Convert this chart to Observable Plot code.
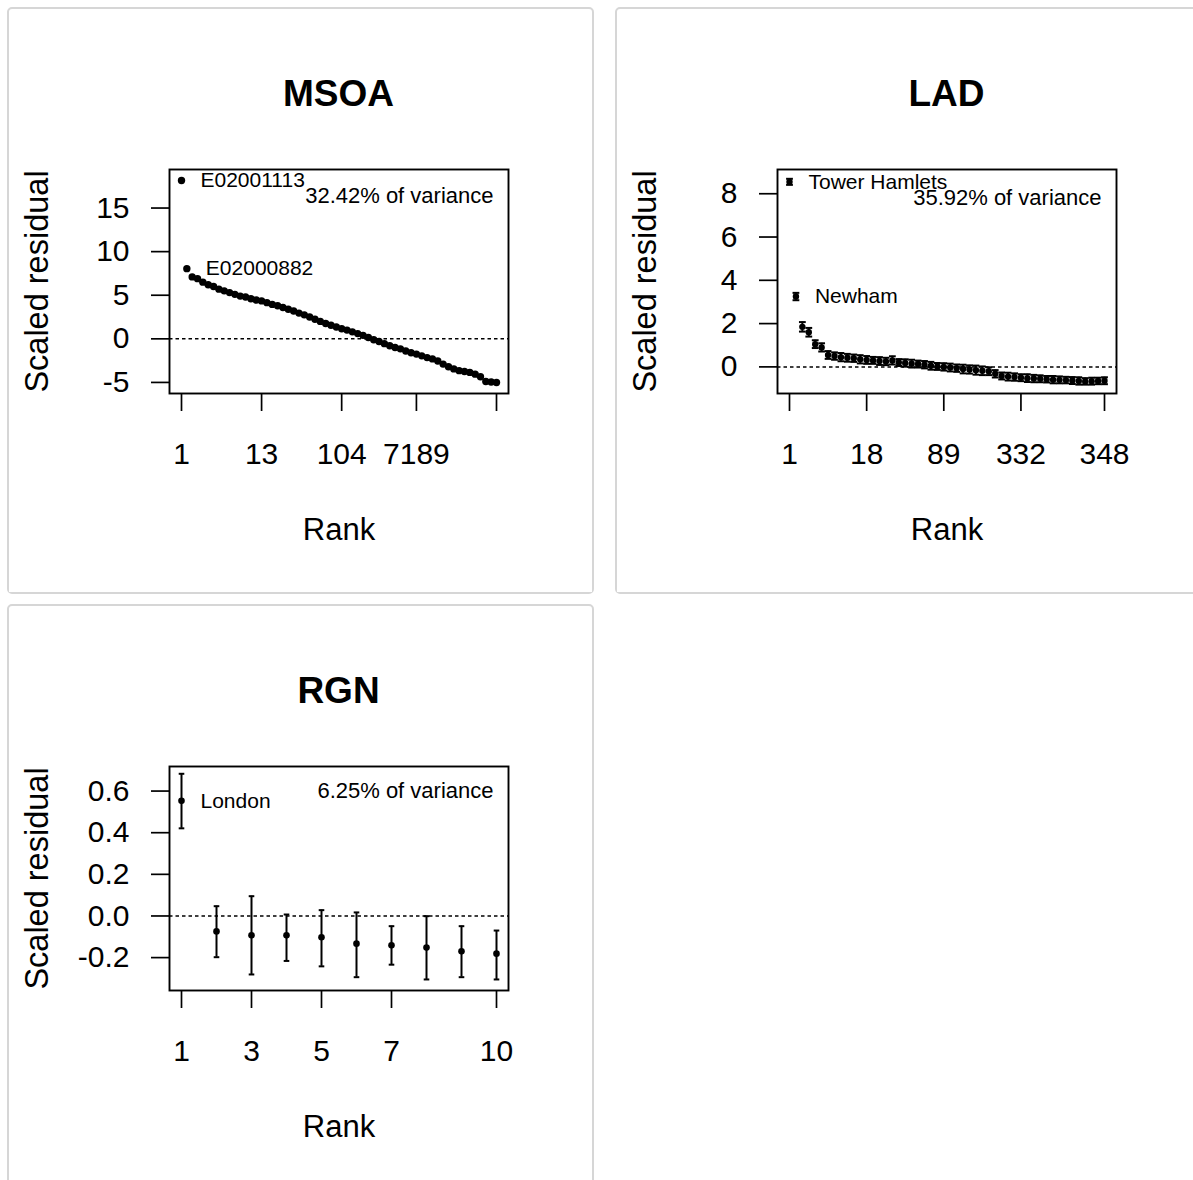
<!DOCTYPE html>
<html>
<head>
<meta charset="utf-8">
<script src="https://cdn.jsdelivr.net/npm/d3@7"></script>
<script src="https://cdn.jsdelivr.net/npm/@observablehq/plot@0.6"></script>
<style>
  html, body { margin: 0; padding: 0; background: #fff; }
  body { width: 1193px; height: 1180px; overflow: hidden; position: relative; font-family: "Liberation Sans", Arial, sans-serif; }
  .panel { position: absolute; width: 583px; height: 583px; border: 2px solid #d6d6d6; border-radius: 5px; background: #fff; }
  .title { position: absolute; left: 160px; width: 339px; top: 66px; line-height: 37px; text-align: center; font-weight: bold; font-size: 37px; color: #000; }
  .chart { position: absolute; left: 0; top: 100px; }
</style>
</head>
<body>
<div class="panel" id="p1" style="left:7px; top:7px;"><div class="title">MSOA</div><div class="chart"></div></div>
<div class="panel" id="p2" style="left:615px; top:7px;"><div class="title">LAD</div><div class="chart"></div></div>
<div class="panel" id="p3" style="left:7px; top:604px;"><div class="title">RGN</div><div class="chart"></div></div>
<script>
// ---------------- DATA ----------------
// MSOA: scaled residuals ordered by rank
const msoaResidual = [18.16, 8.05, 7.1, 6.9, 6.5, 6.2, 6.0, 5.7, 5.5, 5.3,
  5.1, 4.9, 4.8, 4.6, 4.45, 4.35, 4.15, 3.95, 3.8, 3.6,
  3.4, 3.2, 2.95, 2.75, 2.5, 2.25, 2.0, 1.75, 1.55, 1.35,
  1.15, 1.0, 0.8, 0.6, 0.4, 0.15, -0.1, -0.3, -0.55, -0.8,
  -1.0, -1.15, -1.4, -1.6, -1.75, -1.95, -2.15, -2.3, -2.55, -2.9,
  -3.2, -3.45, -3.65, -3.75, -3.85, -4.05, -4.35, -4.9, -4.95, -5.0];
const msoaNames = ["E02001113", "E02000882"];
const msoaTickRanks = [1, 16, 31, 45, 60];
const msoaTickLabels = ["1", "13", "104", "7189", ""];
const msoaYTicks = [-5, 0, 5, 10, 15];
const msoaVariance = "32.42% of variance";

// LAD: scaled residuals ordered by rank, with half-widths of intervals
const ladResidual = [8.55, 3.25, 1.85, 1.6, 1.05, 0.9, 0.55, 0.5, 0.45, 0.42,
  0.4, 0.35, 0.32, 0.3, 0.27, 0.25, 0.3, 0.2, 0.18, 0.15,
  0.13, 0.1, 0.05, 0.02, 0.0, -0.03, -0.06, -0.1, -0.12, -0.15,
  -0.18, -0.2, -0.32, -0.42, -0.45, -0.47, -0.5, -0.52, -0.54, -0.55,
  -0.57, -0.59, -0.6, -0.61, -0.63, -0.65, -0.67, -0.66, -0.65, -0.64];
const ladHalfWidth = [0.14, 0.17, 0.22, 0.2, 0.18, 0.19, 0.18, 0.17, 0.19, 0.18,
  0.17, 0.19, 0.18, 0.16, 0.18, 0.17, 0.19, 0.16, 0.17, 0.18,
  0.16, 0.17, 0.18, 0.16, 0.17, 0.18, 0.17, 0.2, 0.19, 0.21,
  0.2, 0.18, 0.17, 0.16, 0.18, 0.17, 0.16, 0.18, 0.17, 0.16,
  0.15, 0.17, 0.16, 0.15, 0.16, 0.17, 0.15, 0.16, 0.15, 0.16];
const ladNames = ["Tower Hamlets", "Newham"];
const ladTickRanks = [1, 13, 25, 37, 50];
const ladTickLabels = ["1", "18", "89", "332", "348"];
const ladYTicks = [0, 2, 4, 6, 8];
const ladVariance = "35.92% of variance";

// RGN: scaled residuals with interval bounds
const rgnResidual = [0.553, -0.074, -0.093, -0.093, -0.102, -0.133, -0.141, -0.152, -0.170, -0.181];
const rgnLower = [0.421, -0.198, -0.281, -0.216, -0.242, -0.294, -0.234, -0.305, -0.294, -0.305];
const rgnUpper = [0.683, 0.047, 0.095, 0.007, 0.028, 0.017, -0.049, -0.001, -0.049, -0.070];
const rgnNames = ["London"];
const rgnTickRanks = [1, 3, 5, 7, 10];
const rgnTickLabels = ["1", "3", "5", "7", "10"];
const rgnYTicks = [-0.2, 0.0, 0.2, 0.4, 0.6];
const rgnVariance = "6.25% of variance";

// ---------------- DRAWING ----------------
const FONT = "'Liberation Sans', Arial, sans-serif";

function capSymbol() {
  return {
    draw(ctx, size) {
      const w = Math.sqrt(size / Math.PI);
      ctx.moveTo(-w, 0);
      ctx.lineTo(w, 0);
    }
  };
}

function drawPanel(el, cfg) {
  const {values, lo, hi, names, tickRanks, tickLabels, yTicks, yFormat, yDomain,
         variance, varDy, dotR, capR, barWidth} = cfg;
  const n = values.length;
  const data = values.map((v, i) => ({
    rank: i + 1,
    value: v,
    lo: lo ? lo[i] : null,
    hi: hi ? hi[i] : null,
    name: i < names.length ? names[i] : null
  }));
  const marks = [
    Plot.ruleY([0], {stroke: "black", strokeWidth: 1.5, strokeDasharray: "3.5,3"})
  ];
  if (lo) {
    marks.push(
      Plot.ruleX(data, {x: "rank", y1: "lo", y2: "hi", stroke: "black", strokeWidth: barWidth}),
      Plot.dot(data, {x: "rank", y: "lo", symbol: capSymbol(), r: capR, fill: "none", stroke: "black", strokeWidth: barWidth}),
      Plot.dot(data, {x: "rank", y: "hi", symbol: capSymbol(), r: capR, fill: "none", stroke: "black", strokeWidth: barWidth})
    );
  }
  marks.push(
    Plot.dot(data, {x: "rank", y: "value", r: dotR, fill: "black", stroke: "none"}),
    Plot.text(data.filter(d => d.name), {x: "rank", y: "value", text: "name", textAnchor: "start", lineAnchor: "middle", dx: 19, fontSize: 21, fill: "black"}),
    Plot.text([variance], {text: d => d, frameAnchor: "top-right", textAnchor: "end", lineAnchor: "middle", dx: -15, dy: varDy, fontSize: 22, fill: "black"}),
    Plot.frame({stroke: "black", strokeWidth: 1.9}),
    Plot.axisX({ticks: tickRanks, tickFormat: d => tickLabels[tickRanks.indexOf(d)], tickSize: 18, tickPadding: 31, fontSize: 30, strokeWidth: 1.7, label: null}),
    Plot.axisY({ticks: yTicks, tickFormat: yFormat, tickSize: 18, tickPadding: 22, fontSize: 30, strokeWidth: 1.7, label: null}),
    Plot.text(["Rank"], {text: d => d, frameAnchor: "bottom", textAnchor: "middle", lineAnchor: "middle", dy: 137, fontSize: 31, fill: "black"}),
    Plot.text(["Scaled residual"], {text: d => d, frameAnchor: "left", textAnchor: "middle", lineAnchor: "middle", dx: -132, rotate: -90, fontSize: 32.5, fill: "black"})
  );
  const chart = Plot.plot({
    width: 583,
    height: 483,
    marginLeft: 160,
    marginRight: 84,
    marginTop: 60,
    marginBottom: 199,
    style: {fontFamily: FONT, fontSize: "30px", color: "black", background: "white", overflow: "visible"},
    x: {type: "linear", domain: [1, n], inset: 12},
    y: {type: "linear", domain: yDomain},
    marks
  });
  el.querySelector(".chart").appendChild(chart);
}

drawPanel(document.getElementById("p1"), {
  values: msoaResidual, lo: null, hi: null, names: msoaNames,
  tickRanks: msoaTickRanks, tickLabels: msoaTickLabels, yTicks: msoaYTicks,
  yFormat: d => String(d), yDomain: [-6.27, 19.42],
  variance: msoaVariance, varDy: 26, dotR: 3.7, capR: 0, barWidth: 0
});

drawPanel(document.getElementById("p2"), {
  values: ladResidual,
  lo: ladResidual.map((v, i) => v - ladHalfWidth[i]),
  hi: ladResidual.map((v, i) => v + ladHalfWidth[i]),
  names: ladNames,
  tickRanks: ladTickRanks, tickLabels: ladTickLabels, yTicks: ladYTicks,
  yFormat: d => String(d), yDomain: [-1.23, 9.12],
  variance: ladVariance, varDy: 28, dotR: 3.2, capR: 3.4, barWidth: 2
});

drawPanel(document.getElementById("p3"), {
  values: rgnResidual, lo: rgnLower, hi: rgnUpper, names: rgnNames,
  tickRanks: rgnTickRanks, tickLabels: rgnTickLabels, yTicks: rgnYTicks,
  yFormat: d => d.toFixed(1), yDomain: [-0.358, 0.718],
  variance: rgnVariance, varDy: 24, dotR: 3.3, capR: 2.8, barWidth: 2
});
</script>
</body>
</html>
